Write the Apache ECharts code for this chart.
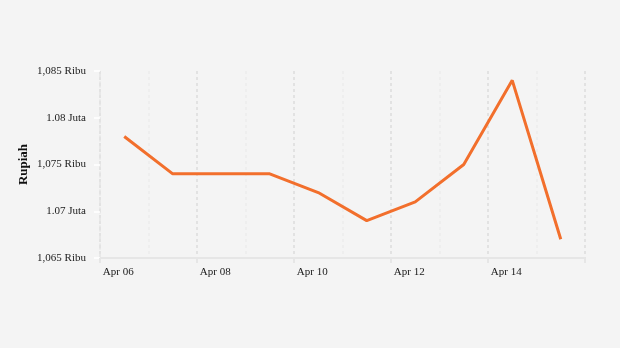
<!DOCTYPE html>
<html><head><meta charset="utf-8">
<script src="https://cdn.jsdelivr.net/npm/echarts@6/dist/echarts.min.js"></script>
<style>html,body{margin:0;padding:0;background:#f4f4f4}#c{width:620px;height:348px}</style>
</head><body><div id="c"></div>
<script>
const categories = ['Apr 06','Apr 07','Apr 08','Apr 09','Apr 10','Apr 11','Apr 12','Apr 13','Apr 14','Apr 15'];
const prices = [1078000,1074000,1074000,1074000,1072000,1069000,1071000,1075000,1084000,1067000];
const yTickValues = [1065000,1070000,1075000,1080000,1085000];
const yTickLabels = ['1,065 Ribu','1.07 Juta','1,075 Ribu','1.08 Juta','1,085 Ribu'];
const yAxisTitle = 'Rupiah';
const font = '"Liberation Serif", "DejaVu Serif", serif';

const chart = echarts.init(document.getElementById('c'));
chart.setOption({
  backgroundColor: '#f4f4f4',
  animation: false,
  grid: {left: 100, right: 35, top: 71, bottom: 90},
  xAxis: {
    type: 'category',
    data: categories,
    boundaryGap: true,
    axisLine: {lineStyle: {color: '#e6e6e6', width: 2}},
    axisTick: {show: true, interval: 1, length: 5, lineStyle: {color: '#e6e6e6', width: 2}},
    axisLabel: {interval: 1, color: '#1a1a1a', fontFamily: font, fontSize: 11, margin: 9, padding: [0, 12, 0, 0]},
    splitLine: {show: true, interval: 0, lineStyle: {type: [3, 3], color: ['#dcdcdc', '#ebebeb'], width: 1.5}}
  },
  yAxis: {
    type: 'value',
    min: 1065000, max: 1085000, interval: 5000,
    name: yAxisTitle,
    nameLocation: 'middle',
    nameGap: 70,
    nameMoveOverlap: false,
    nameTextStyle: {fontFamily: font, fontSize: 13, fontWeight: 'bold', color: '#111'},
    axisLine: {show: true, lineStyle: {color: '#e4e4e4', type: [5, 4], width: 1.5}},
    axisTick: {show: true, length: 6, lineStyle: {color: '#ffffff', width: 1.5}},
    axisLabel: {color: '#1a1a1a', fontFamily: font, fontSize: 11, margin: 14, padding: [2, 0, 0, 0],
      formatter: v => { const i = yTickValues.indexOf(v); return i >= 0 ? yTickLabels[i] : ''; }},
    splitLine: {show: false}
  },
  series: [{
    type: 'line',
    data: prices,
    symbol: 'none',
    lineStyle: {color: '#f26f2c', width: 3},
    itemStyle: {color: '#f26f2c'}
  }]
});
</script></body></html>
